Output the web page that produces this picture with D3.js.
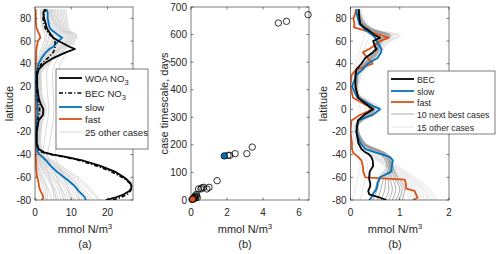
<!DOCTYPE html>
<html>
<head>
<meta charset="utf-8">
<script src="https://cdn.jsdelivr.net/npm/d3@7"></script>
<style>
  body { margin: 0; background: #fff; }
  text { font-family: "Liberation Sans", Arial, sans-serif; fill: #262626; }
</style>
</head>
<body>
<div id="container"></div>
<script>
// latitudes for the highlighted lines
let lat = [-80,-78,-75,-72,-70,-68,-65,-62,-60,-55,-50,-45,-42,-40,-38,-35,-30,-20,-10,-5,0,5,10,20,30,35,40,45,50,53,55,60,63,65,70,72,75,80,85,88]

// panel (a), nitrate
let woaA = [19.5,22,24.5,26,26.5,26.6,26.3,25.3,24.5,22,18,13,8.5,5,2.5,1,0.5,0.5,1,2.2,2.3,1.5,1,0.6,0.6,1,2.5,5,8.5,11,9.5,6.5,5,4.5,3.5,3.2,3,2.5,2.3,2.8]
let becA = [21.5,23.5,25.5,26.3,26.5,26.5,26,25,24,21,17,12,8,4.5,2,0.8,0.4,0.4,0.6,1.2,1.3,1,0.7,0.4,0.4,0.7,1.8,3.5,5,5.5,5.5,5.5,5,4.3,3,2.8,2.5,2.2,2.5,3]
let slowA = [14,13.8,13,12,11.5,11,10,8.8,8,6,4.3,3,2,1.3,0.8,0.5,0.3,0.3,0.4,0.7,0.8,0.6,0.4,0.3,0.3,0.5,1,1.8,3,4,5,6.5,7.5,6.5,4.5,4,3.8,3.5,3.5,3.2]
let fastA = [1.8,2.3,2,1.5,1.3,1.1,1,0.8,0.6,0.4,0.3,0.25,0.2,0.2,0.2,0.2,0.2,0.2,0.2,0.25,0.3,0.25,0.2,0.2,0.2,0.2,0.25,0.3,0.35,0.4,0.5,0.8,1.5,1.3,0.6,0.4,0.3,0.2,0.2,0.2]

// panel (c), model cases
let becC = [0.73,0.6,0.38,0.36,0.38,0.4,0.4,0.38,0.38,0.39,0.46,0.45,0.42,0.38,0.3,0.22,0.16,0.12,0.15,0.28,0.46,0.3,0.16,0.1,0.1,0.12,0.22,0.3,0.45,0.53,0.5,0.46,0.6,0.5,0.35,0.28,0.2,0.18,0.17,0.17]
let slowC = [0.38,0.42,0.45,0.5,0.53,0.54,0.55,0.58,0.6,0.83,0.84,0.86,0.8,0.65,0.5,0.3,0.2,0.12,0.15,0.45,0.6,0.35,0.14,0.03,0.12,0.25,0.35,0.55,0.62,0.63,0.6,0.53,0.5,0.45,0.3,0.25,0.18,0.15,0.12,0.12]
let fastC = [1.27,1.36,1.33,1.3,1.13,1.13,1.12,1.1,0.3,0.26,0.25,0.22,0.15,0.1,0.05,0.03,0.03,0,0.02,0.2,0.46,0.26,0.05,0,0.02,0.12,0.45,0.35,0.25,0.38,0.45,0.6,0.78,0.63,0.23,0.07,0.08,0.06,0.1,0.12]

// coarser latitudes for the grey cases
let latG = [-80,-70,-60,-50,-40,-30,-15,0,15,30,40,50,60,65,70,80,88]

let otherA = [
  [3.0,2.8,1.6,0.7,0.3,0.2,0.2,0.4,0.2,0.2,0.6,1.8,3.0,3.2,2.5,1.8,1.6],
  [4.5,3.6,2.2,0.9,0.4,0.2,0.3,0.6,0.3,0.3,0.8,2.4,3.8,4.2,3.0,2.2,1.9],
  [5.2,4.8,3.0,1.4,0.5,0.3,0.3,0.7,0.3,0.3,0.9,2.6,4.5,4.9,3.6,2.5,2.1],
  [6.4,5.5,3.5,1.6,0.6,0.3,0.4,0.8,0.4,0.4,1.1,3.0,5.0,5.6,4.2,3.2,2.8],
  [7.1,6.3,4.4,2.0,0.7,0.4,0.4,0.9,0.4,0.4,1.2,3.1,5.4,6.0,4.6,3.6,3.2],
  [7.8,7.0,4.9,2.4,0.8,0.4,0.5,1.0,0.5,0.5,1.4,3.5,6.0,6.5,5.0,4.0,3.6],
  [8.5,7.4,5.3,2.6,0.9,0.5,0.5,1.1,0.5,0.5,1.5,3.8,6.4,7.0,5.4,4.4,4.0],
  [9.0,8.2,6.0,3.0,1.0,0.5,0.6,1.2,0.6,0.6,1.7,4.0,6.8,7.4,5.8,4.8,4.4],
  [9.8,8.8,6.4,3.3,1.1,0.6,0.6,1.3,0.6,0.6,1.8,4.4,7.2,7.9,6.1,5.2,4.8],
  [10.5,9.3,7.0,3.7,1.2,0.6,0.7,1.5,0.7,0.7,2.0,4.7,7.7,8.3,6.4,5.6,5.2],
  [11.0,10.0,7.5,4.0,1.3,0.7,0.8,1.6,0.8,0.8,2.2,5.0,8.1,8.8,6.8,6.0,5.6],
  [11.8,10.6,8.1,4.4,1.5,0.8,0.9,1.8,0.9,0.9,2.4,5.3,8.5,9.2,7.2,6.4,6.0],
  [12.3,11.2,8.6,4.7,1.6,0.9,1.0,1.9,1.0,1.0,2.6,5.6,8.9,9.6,7.5,6.8,6.4],
  [13.0,11.7,9.1,5.1,1.8,1.0,1.1,2.1,1.1,1.1,2.8,5.9,9.3,10.0,7.9,7.2,6.8],
  [15.0,12.5,9.8,5.6,2.0,1.1,1.2,2.3,1.2,1.2,3.0,6.2,9.6,10.4,8.2,7.6,7.2],
  [16.0,13.3,10.4,6.0,2.2,1.2,1.4,2.5,1.4,1.3,3.3,6.6,10.0,10.8,8.6,8.0,7.6],
  [17.5,14.5,11.2,6.6,2.5,1.4,1.6,2.8,1.6,1.5,3.6,7.0,10.4,11.2,9.0,8.4,8.0],
  [18.0,15.2,12.0,7.2,2.8,1.6,1.8,3.1,1.8,1.7,4.0,7.4,10.8,11.6,9.3,8.8,8.5],
  [6.0,5.0,4.0,3.0,2.2,2.5,3.2,3.8,3.4,3.2,4.0,6.0,8.5,9.0,7.0,4.5,4.0],
  [8.0,7.0,6.0,4.5,3.5,4.0,4.8,5.2,5.0,4.8,5.5,7.5,10.0,10.5,8.0,5.0,4.5],
  [10.0,9.0,8.0,6.5,5.5,6.0,6.5,7.0,6.8,6.5,7.0,8.8,11.0,11.3,9.0,6.0,5.0],
  [3.5,3.2,2.0,1.0,0.5,0.4,0.5,1.0,0.6,0.5,1.0,2.0,3.5,3.8,2.8,2.0,1.8],
  [2.5,2.2,1.3,0.6,0.3,0.2,0.3,0.5,0.3,0.3,0.5,1.3,2.5,2.8,2.2,1.6,1.4],
  [5.8,5.2,3.8,1.8,0.7,0.4,0.5,0.9,0.5,0.5,1.0,2.8,4.8,5.2,4.0,2.7,2.3],
  [12.0,12.0,9.5,5.5,2.0,1.0,1.0,2.0,1.0,1.0,2.5,5.5,9.0,10.0,7.5,5.0,4.0]
]

let nextBestC = [
  [0.45,0.55,0.62,0.80,0.70,0.25,0.12,0.42,0.10,0.12,0.30,0.50,0.55,0.62,0.38,0.15,0.12],
  [0.55,0.62,0.68,0.82,0.72,0.27,0.13,0.45,0.11,0.13,0.32,0.52,0.58,0.66,0.40,0.17,0.13],
  [0.62,0.70,0.72,0.78,0.66,0.24,0.12,0.40,0.10,0.11,0.28,0.48,0.54,0.70,0.42,0.18,0.14],
  [0.70,0.78,0.76,0.84,0.74,0.28,0.14,0.48,0.12,0.14,0.34,0.55,0.60,0.74,0.44,0.19,0.15],
  [0.78,0.85,0.80,0.80,0.68,0.26,0.13,0.44,0.11,0.12,0.30,0.50,0.62,0.78,0.45,0.20,0.16],
  [0.85,0.92,0.84,0.76,0.62,0.22,0.11,0.38,0.09,0.10,0.26,0.46,0.56,0.72,0.41,0.18,0.15],
  [0.92,1.00,0.88,0.82,0.70,0.26,0.12,0.46,0.10,0.12,0.30,0.52,0.60,0.80,0.46,0.22,0.17],
  [0.98,1.05,0.92,0.86,0.76,0.30,0.15,0.50,0.13,0.15,0.36,0.57,0.64,0.82,0.48,0.23,0.18],
  [1.05,1.10,0.96,0.84,0.72,0.28,0.14,0.48,0.12,0.13,0.33,0.54,0.60,0.76,0.43,0.20,0.16],
  [0.40,0.50,0.58,0.74,0.64,0.23,0.11,0.40,0.09,0.10,0.27,0.47,0.52,0.58,0.36,0.14,0.11]
]

let otherC = [
  [1.70,1.55,1.25,0.90,0.55,0.25,0.15,0.55,0.15,0.20,0.40,0.60,0.80,1.00,0.50,0.25,0.20],
  [1.60,1.45,1.15,0.85,0.50,0.22,0.13,0.50,0.14,0.18,0.38,0.58,0.75,0.95,0.48,0.22,0.18],
  [1.50,1.40,1.10,0.80,0.48,0.20,0.12,0.48,0.12,0.16,0.35,0.55,0.72,0.90,0.45,0.20,0.16],
  [1.40,1.30,1.05,0.78,0.45,0.20,0.12,0.60,0.13,0.15,0.34,0.52,0.70,0.85,0.44,0.21,0.17],
  [1.30,1.20,1.00,0.75,0.42,0.18,0.11,0.62,0.12,0.14,0.32,0.50,0.66,0.82,0.40,0.19,0.15],
  [1.75,1.60,1.30,0.95,0.60,0.28,0.16,0.58,0.16,0.22,0.42,0.62,0.82,1.02,0.52,0.27,0.22],
  [1.20,1.10,0.95,0.70,0.40,0.18,0.10,0.45,0.11,0.13,0.30,0.48,0.64,0.80,0.40,0.18,0.14],
  [1.10,1.00,0.90,0.68,0.38,0.16,0.10,0.42,0.10,0.12,0.28,0.46,0.62,0.78,0.38,0.17,0.13],
  [0.05,0.10,0.15,0.20,0.15,0.08,0.05,0.20,0.05,0.05,0.10,0.18,0.25,0.30,0.15,0.06,0.05],
  [0.20,0.25,0.30,0.35,0.25,0.12,0.08,0.30,0.07,0.08,0.15,0.25,0.35,0.40,0.22,0.10,0.08],
  [1.65,1.50,1.20,0.92,0.58,0.26,0.14,0.52,0.15,0.19,0.39,0.59,0.78,0.98,0.49,0.24,0.19],
  [1.55,1.48,1.18,0.88,0.52,0.24,0.13,0.56,0.14,0.17,0.37,0.57,0.76,0.96,0.47,0.23,0.18],
  [1.45,1.35,1.08,0.82,0.47,0.21,0.12,0.50,0.13,0.16,0.36,0.54,0.71,0.88,0.46,0.22,0.17],
  [1.35,1.25,1.02,0.77,0.44,0.19,0.11,0.54,0.12,0.15,0.33,0.51,0.68,0.84,0.42,0.20,0.16],
  [1.25,1.15,0.98,0.72,0.41,0.17,0.10,0.47,0.11,0.14,0.31,0.49,0.65,0.81,0.41,0.18,0.15]
]

// panel (b), mean nitrate vs timescale for each case
let caseNitrate = [4.85,5.3,6.5,3.4,3.1,2.45,2.15,2.05,1.45,1.0,0.88,0.7,0.55,0.42,0.6,0.3,0.22,0.35,0.25,0.15,0.12,0.2,0.05,0.3,0.18]
let caseDays = [642,648,672,192,168,168,162,162,70,46,40,46,40,40,44,15,14,9,8,5,3,10,2,20,6]
let slowCase = [1.85, 160]
let fastCase = [0.09, 3]

let latTicks = [-80,-60,-40,-20,0,20,40,60,80]
let ticksA = [0,10,20]
let ticksB = [0,2,4,6]
let daysTicks = [0,100,200,300,400,500,600,700]
let ticksC = [0,1,2]

let width = 500, height = 254
let yTop = 7, yBottom = 200
let blue = '#0072BD', orange = '#D95319', ink = '#262626'

let svg = d3.select('#container').append('svg')
  .attr('width', width)
  .attr('height', height)

let y = d3.scaleLinear().domain([-80, 90]).range([yBottom, yTop])
let xa = d3.scaleLinear().domain([0, 27]).range([35, 133])
let xb = d3.scaleLinear().domain([0, 6.55]).range([191, 309])
let yb = d3.scaleLinear().domain([0, 700]).range([yBottom, yTop])
let xc = d3.scaleLinear().domain([0, 2]).range([350.5, 449])

// draws the box, inward ticks on all four sides and tick labels
function frame(x, yS, xt, yt) {
  let g = svg.append('g')
  let [x0, x1] = x.range()
  g.append('rect')
    .attr('x', x0).attr('y', yTop)
    .attr('width', x1 - x0).attr('height', yBottom - yTop)
    .attr('fill', 'none').attr('stroke', ink).attr('stroke-width', 0.6)
  let tl = 2.5
  xt.forEach(t => {
    let px = x(t)
    g.append('line').attr('x1', px).attr('x2', px).attr('y1', yBottom).attr('y2', yBottom - tl).attr('stroke', ink).attr('stroke-width', 0.6)
    g.append('line').attr('x1', px).attr('x2', px).attr('y1', yTop).attr('y2', yTop + tl).attr('stroke', ink).attr('stroke-width', 0.6)
    g.append('text').attr('x', px).attr('y', 216).attr('text-anchor', 'middle').attr('font-size', 10).text(t)
  })
  yt.forEach(t => {
    let py = yS(t)
    g.append('line').attr('x1', x0).attr('x2', x0 + tl).attr('y1', py).attr('y2', py).attr('stroke', ink).attr('stroke-width', 0.6)
    g.append('line').attr('x1', x1).attr('x2', x1 - tl).attr('y1', py).attr('y2', py).attr('stroke', ink).attr('stroke-width', 0.6)
    g.append('text').attr('x', x0 - 4).attr('y', py + 3.5).attr('text-anchor', 'end').attr('font-size', 10).text(t)
  })
  return g
}

function xlabel(cx, tag) {
  let t = svg.append('text').attr('x', cx).attr('y', 233).attr('text-anchor', 'middle').attr('font-size', 11)
  t.append('tspan').text('mmol N/m')
  t.append('tspan').attr('dy', -4).attr('font-size', 8).text('3')
  svg.append('text').attr('x', cx).attr('y', 248).attr('text-anchor', 'middle').attr('font-size', 11).text(tag)
}

function ylabel(px, txt) {
  svg.append('text')
    .attr('transform', `translate(${px},${(yTop + yBottom) / 2}) rotate(-90)`)
    .attr('text-anchor', 'middle').attr('font-size', 11).text(txt)
}

function profile(g, x, lats, vals, color, w, dash, curve) {
  let line = d3.line()
    .x(d => x(d[1]))
    .y(d => y(d[0]))
    .curve(curve || d3.curveLinear)
  g.append('path')
    .datum(d3.zip(lats, vals))
    .attr('d', line)
    .attr('fill', 'none')
    .attr('stroke', color)
    .attr('stroke-width', w)
    .attr('stroke-dasharray', dash || null)
    .attr('stroke-linejoin', 'round')
}

// clip each line panel to its box
function clipFor(id, x) {
  let [x0, x1] = x.range()
  svg.append('clipPath').attr('id', id).append('rect')
    .attr('x', x0).attr('y', yTop).attr('width', x1 - x0).attr('height', yBottom - yTop)
}

// ---------- panel (a)
clipFor('clipA', xa)
let ga = svg.append('g').attr('clip-path', 'url(#clipA)')
otherA.forEach(v => profile(ga, xa, latG, v, '#cfcfcf', 0.8, null, d3.curveMonotoneY))
profile(ga, xa, lat, fastA, orange, 1.8)
profile(ga, xa, lat, slowA, blue, 1.8)
profile(ga, xa, lat, becA, '#000', 1.6, '4,2,1.2,2')
profile(ga, xa, lat, woaA, '#000', 1.8)
frame(xa, y, ticksA, latTicks)
xlabel(85, '(a)')
ylabel(13, 'latitude')

// ---------- panel (b)
frame(xb, yb, ticksB, daysTicks)
svg.append('g').selectAll('circle')
  .data(d3.zip(caseNitrate, caseDays))
  .join('circle')
  .attr('cx', d => xb(d[0]))
  .attr('cy', d => yb(d[1]))
  .attr('r', 3.2)
  .attr('fill', 'none')
  .attr('stroke', '#000')
  .attr('stroke-width', 0.8)
svg.append('circle').attr('cx', xb(slowCase[0])).attr('cy', yb(slowCase[1])).attr('r', 3.2)
  .attr('fill', blue).attr('stroke', '#000').attr('stroke-width', 0.8)
svg.append('circle').attr('cx', xb(fastCase[0])).attr('cy', yb(fastCase[1])).attr('r', 3.2)
  .attr('fill', orange).attr('stroke', '#000').attr('stroke-width', 0.8)
xlabel(245, '(b)')
ylabel(168, 'case timescale, days')

// ---------- panel (c)
clipFor('clipC', xc)
let gc = svg.append('g').attr('clip-path', 'url(#clipC)')
otherC.forEach(v => profile(gc, xc, latG, v, '#e4e4e4', 0.9, null, d3.curveMonotoneY))
nextBestC.forEach(v => profile(gc, xc, latG, v, '#9a9a9a', 0.8, null, d3.curveMonotoneY))
profile(gc, xc, lat, fastC, orange, 1.8)
profile(gc, xc, lat, slowC, blue, 1.8)
profile(gc, xc, lat, becC, '#000', 1.8)
frame(xc, y, ticksC, latTicks)
xlabel(395, '(b)')
ylabel(327, 'latitude')

// ---------- legends
function legend(box, rows, fs, len) {
  let g = svg.append('g')
  g.append('rect')
    .attr('x', box[0]).attr('y', box[1])
    .attr('width', box[2] - box[0]).attr('height', box[3] - box[1])
    .attr('fill', '#fff').attr('stroke', ink).attr('stroke-width', 0.6)
  rows.forEach(r => {
    g.append('line').attr('x1', box[0] + 3).attr('x2', box[0] + len).attr('y1', r.y).attr('y2', r.y)
      .attr('stroke', r.color).attr('stroke-width', r.w).attr('stroke-dasharray', r.dash || null)
    let t = g.append('text').attr('x', box[0] + len + 3).attr('y', r.y + 3.5).attr('font-size', fs)
    t.append('tspan').text(r.label)
    if (r.sub) t.append('tspan').attr('dy', 3).attr('font-size', 7.5).text(r.sub)
  })
}

legend([56, 69, 148, 149], [
  { y: 78, label: 'WOA NO', sub: '3', color: '#000', w: 1.8 },
  { y: 93, label: 'BEC NO', sub: '3', color: '#000', w: 1.6, dash: '4,2,1.2,2' },
  { y: 107, label: 'slow', color: blue, w: 1.8 },
  { y: 119, label: 'fast', color: orange, w: 1.8 },
  { y: 132, label: '25 other cases', color: '#cfcfcf', w: 0.8 }
], 9.6, 26)

legend([388, 71, 495, 134], [
  { y: 79, label: 'BEC', color: '#000', w: 1.8 },
  { y: 91, label: 'slow', color: blue, w: 1.8 },
  { y: 102, label: 'fast', color: orange, w: 1.8 },
  { y: 114, label: '10 next best cases', color: '#9a9a9a', w: 0.8 },
  { y: 127, label: '15 other cases', color: '#e4e4e4', w: 0.9 }
], 8.7, 26)
</script>
</body>
</html>
